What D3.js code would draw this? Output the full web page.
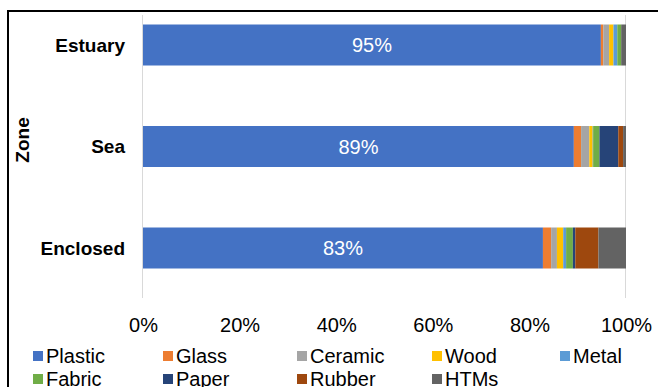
<!DOCTYPE html>
<html>
<head>
<meta charset="utf-8">
<script src="https://cdn.jsdelivr.net/npm/d3@7"></script>
<style>
  html, body { margin: 0; padding: 0; background: #fff; }
  svg { display: block; font-family: "Liberation Sans", Arial, sans-serif; }
</style>
</head>
<body>
<svg id="chart" width="658" height="387"></svg>
<script>
// Composition of litter by material in each zone (percent of items)
const zones = ["Estuary", "Sea", "Enclosed"];
const materials = ["Plastic", "Glass", "Ceramic", "Wood", "Metal", "Fabric", "Paper", "Rubber", "HTMs"];
const colors = ["#4472C4", "#ED7D31", "#A5A5A5", "#FFC000", "#5B9BD5", "#70AD47", "#264478", "#9E480E", "#636363"];
const estuary  = [94.8, 0.5, 1.2, 0.9, 0.8, 0.8, 0.0, 0.0, 1.0];
const sea      = [89.2, 1.5, 1.7, 0.7, 0.1, 1.3, 3.9, 1.0, 0.6];
const enclosed = [82.8, 1.7, 1.2, 1.3, 0.6, 1.4, 0.5, 4.8, 5.7];
const tickValues = [0, 20, 40, 60, 80, 100];

const seriesByZone = { Estuary: estuary, Sea: sea, Enclosed: enclosed };
const rows = zones.map(z => {
  const r = { zone: z };
  materials.forEach((m, i) => { r[m] = seriesByZone[z][i]; });
  return r;
});

const svg = d3.select("#chart");
const W = 658, H = 387;
svg.append("rect").attr("width", W).attr("height", H).attr("fill", "#fff");

// frame around the chart area
svg.append("rect")
  .attr("x", 8).attr("y", 11).attr("width", W + 20).attr("height", H + 20)
  .attr("fill", "none").attr("stroke", "#000").attr("stroke-width", 2);

const x = d3.scaleLinear().domain([0, 100]).range([143, 626]);
const y = d3.scalePoint().domain(zones).range([45, 248]);
const barH = 41;
const color = d3.scaleOrdinal().domain(materials).range(colors);

// vertical gridlines at the ends of the scale
svg.append("g").selectAll("line").data([0, 100]).join("line")
  .attr("x1", d => x(d) - 0.5).attr("x2", d => x(d) - 0.5)
  .attr("y1", 15).attr("y2", 298)
  .attr("stroke", "#d9d9d9").attr("stroke-width", 1);

const stack = d3.stack().keys(materials);
const series = stack(rows);

svg.append("g").selectAll("g").data(series).join("g")
  .attr("fill", d => color(d.key))
  .selectAll("rect").data(d => d).join("rect")
  .attr("x", d => x(d[0]))
  .attr("width", d => Math.max(0, x(d[1]) - x(d[0])))
  .attr("y", d => y(d.data.zone) - barH / 2)
  .attr("height", barH);

// value labels on the plastic segment
const fmt = v => d3.format(".0f")(v) + "%";
svg.append("g").selectAll("text").data(series[0]).join("text")
  .attr("x", d => (x(d[0]) + x(d[1])) / 2)
  .attr("y", d => y(d.data.zone))
  .attr("dy", "0.36em")
  .attr("text-anchor", "middle")
  .attr("fill", "#fff")
  .attr("font-size", 20)
  .text(d => fmt(d[1] - d[0]));

// category axis labels
const yAxis = d3.axisLeft(y).tickSize(0).tickPadding(0);
const gy = svg.append("g").attr("transform", "translate(125,0)").call(yAxis);
gy.select(".domain").remove();
gy.selectAll("text").attr("font-size", 19).attr("font-weight", "bold")
  .attr("fill", "#000").attr("font-family", "Liberation Sans, Arial, sans-serif");

// percentage axis labels
const xAxis = d3.axisBottom(x).tickValues(tickValues).tickSize(0).tickPadding(0)
  .tickFormat(d => d + "%");
const gx = svg.append("g").attr("transform", "translate(0,318)").call(xAxis);
gx.select(".domain").remove();
gx.selectAll("text").attr("font-size", 20).attr("fill", "#000")
  .attr("font-family", "Liberation Sans, Arial, sans-serif");

// axis title
svg.append("text")
  .attr("transform", "translate(29,140) rotate(-90)")
  .attr("text-anchor", "middle")
  .attr("font-size", 19).attr("font-weight", "bold")
  .text("Zone");

// legend
const legendX = [33, 163, 297, 432, 560];
const legendY = [356, 379];
const lg = svg.append("g").selectAll("g").data(materials).join("g")
  .attr("transform", (d, i) => `translate(${legendX[i % 5]},${legendY[Math.floor(i / 5)]})`);
lg.append("rect").attr("x", 0).attr("y", -5).attr("width", 10).attr("height", 10)
  .attr("fill", d => color(d));
lg.append("text").attr("x", 13).attr("dy", "0.36em")
  .attr("font-size", 20).attr("fill", "#000").text(d => d);
</script>
</body>
</html>
